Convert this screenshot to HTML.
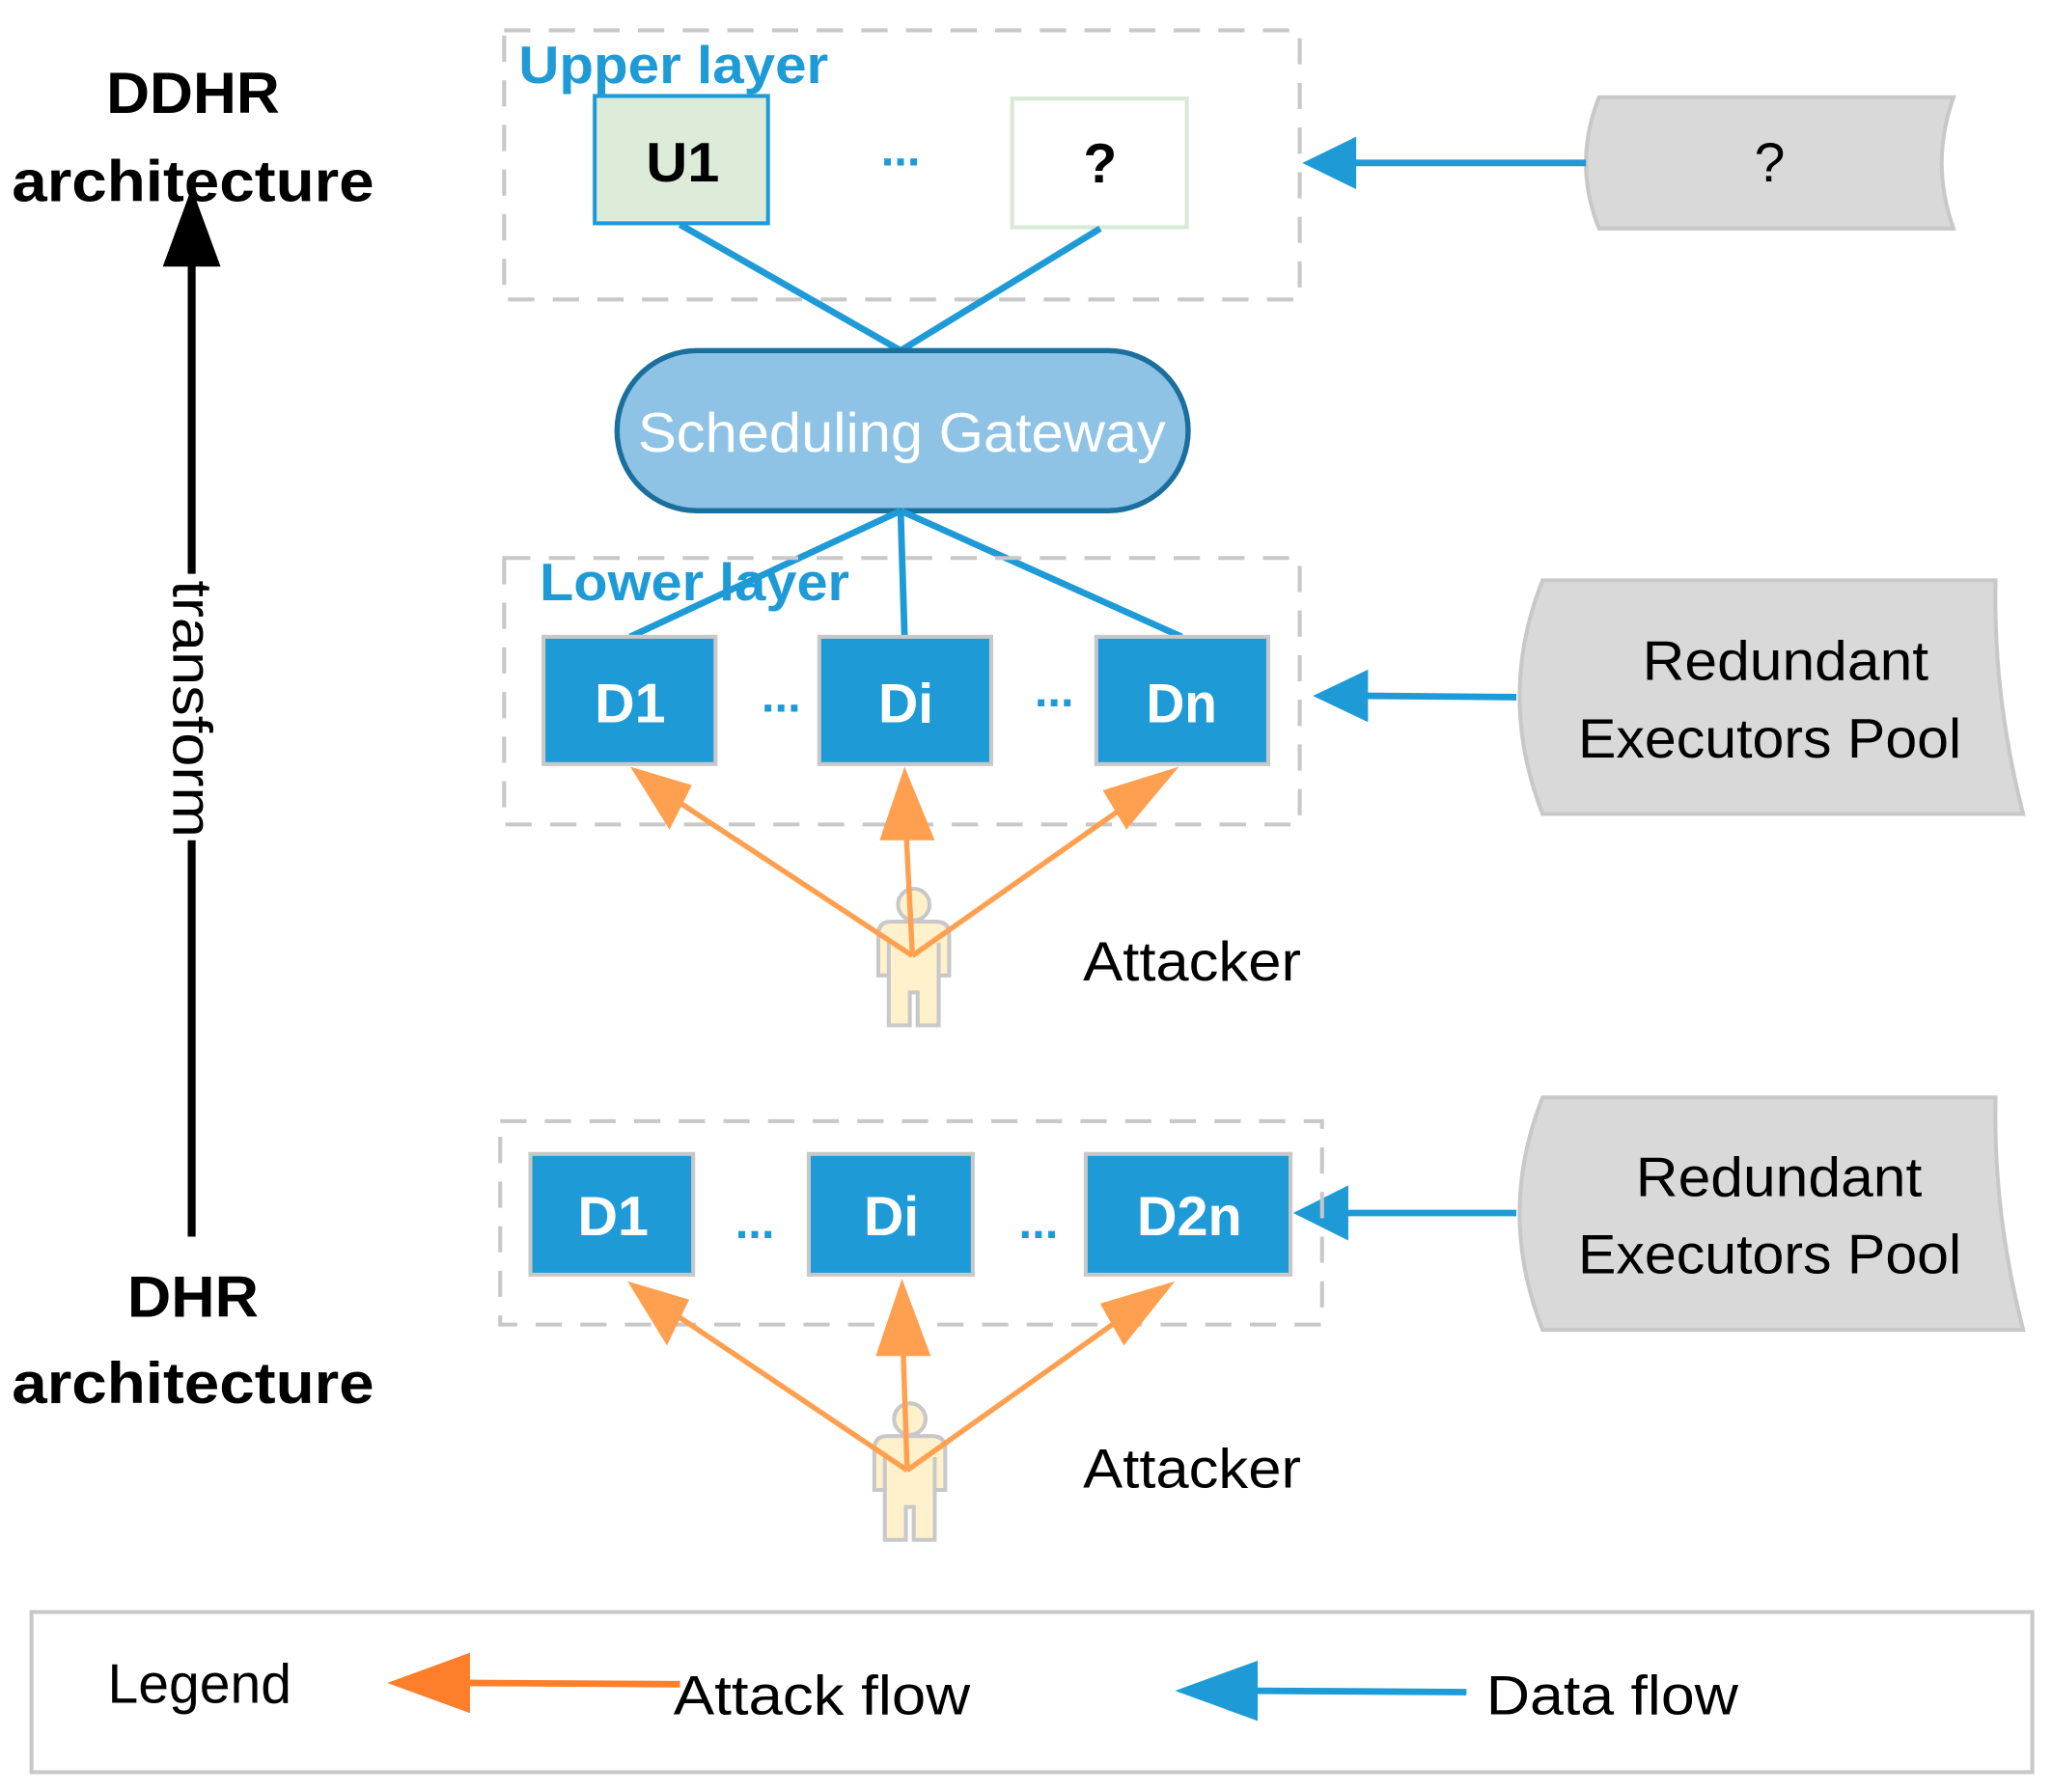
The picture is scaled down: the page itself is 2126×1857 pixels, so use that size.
<!DOCTYPE html>
<html><head><meta charset="utf-8"><style>
html,body{margin:0;padding:0;background:#fff}
svg{display:block}
text{font-family:"Liberation Sans",sans-serif}
</style></head><body>
<svg width="2126" height="1857" viewBox="0 0 1563 1365" xmlns="http://www.w3.org/2000/svg">
<!-- left labels -->
<g font-weight="bold" font-size="44" text-anchor="middle" fill="#000">
<text x="147" y="86" textLength="132" lengthAdjust="spacingAndGlyphs">DDHR</text>
<text x="147" y="153" textLength="276" lengthAdjust="spacingAndGlyphs">architecture</text>
<text x="147" y="1003" textLength="100" lengthAdjust="spacingAndGlyphs">DHR</text>
<text x="147" y="1069" textLength="276" lengthAdjust="spacingAndGlyphs">architecture</text>
</g>
<line x1="146" y1="942" x2="146" y2="640" stroke="#000" stroke-width="6"/>
<line x1="146" y1="437" x2="146" y2="195" stroke="#000" stroke-width="6"/>
<polygon points="146,143 124,203 168,203" fill="#000"/>
<text x="0" y="0" font-size="42" text-anchor="middle" transform="translate(132,540) rotate(90)" textLength="196" lengthAdjust="spacingAndGlyphs">transform</text>

<!-- upper layer -->
<rect x="384" y="23" width="606" height="205" fill="none" stroke="#c8c8c8" stroke-width="3" stroke-dasharray="20,14"/>
<text x="395" y="63" font-size="40" font-weight="bold" fill="#1e9bd7" textLength="236" lengthAdjust="spacingAndGlyphs">Upper layer</text>
<rect x="453" y="73" width="132" height="97" fill="#dcecd9" stroke="#1e9bd7" stroke-width="3"/>
<text x="520" y="138" font-size="42" font-weight="bold" text-anchor="middle" textLength="56" lengthAdjust="spacingAndGlyphs">U1</text>
<text x="686" y="126" font-size="36" font-weight="bold" fill="#1e9bd7" text-anchor="middle">...</text>
<rect x="771" y="75" width="133" height="98" fill="#fff" stroke="#d8ead4" stroke-width="3"/>
<text x="838" y="139" font-size="42" font-weight="bold" text-anchor="middle">?</text>
<line x1="518" y1="171" x2="686" y2="267" stroke="#1e9bd7" stroke-width="5"/>
<line x1="838" y1="174" x2="686" y2="267" stroke="#1e9bd7" stroke-width="5"/>

<!-- gateway -->
<rect x="470" y="267" width="435" height="122" rx="61" fill="#8ec3e6" stroke="#1a6f9c" stroke-width="4"/>
<text x="687" y="344" font-size="42" fill="#fff" text-anchor="middle" textLength="402" lengthAdjust="spacingAndGlyphs">Scheduling Gateway</text>
<line x1="686" y1="389" x2="480" y2="485" stroke="#1e9bd7" stroke-width="5"/>
<line x1="686" y1="389" x2="689" y2="485" stroke="#1e9bd7" stroke-width="5"/>
<line x1="686" y1="389" x2="900" y2="485" stroke="#1e9bd7" stroke-width="5"/>

<!-- lower layer -->
<rect x="384" y="425" width="606" height="203" fill="none" stroke="#c8c8c8" stroke-width="3" stroke-dasharray="20,14"/>
<text x="411" y="457" font-size="40" font-weight="bold" fill="#1e9bd7" textLength="236" lengthAdjust="spacingAndGlyphs">Lower layer</text>
<g stroke="#c8c8c8" stroke-width="3" fill="#1e9bd7">
<rect x="414" y="485" width="131" height="97"/>
<rect x="624" y="485" width="131" height="97"/>
<rect x="835" y="485" width="131" height="97"/>
</g>
<g font-size="42" font-weight="bold" fill="#fff" text-anchor="middle">
<text x="480" y="550" textLength="54" lengthAdjust="spacingAndGlyphs">D1</text><text x="690" y="550">Di</text><text x="900" y="550" textLength="54" lengthAdjust="spacingAndGlyphs">Dn</text>
</g>
<g font-size="36" font-weight="bold" fill="#1e9bd7" text-anchor="middle">
<text x="595" y="542">...</text><text x="803" y="538">...</text>
</g>

<!-- attacker 1 -->
<g stroke="#c8c8c8" stroke-width="3" fill="#fff1cb">
<circle cx="696" cy="689" r="12"/>
<path d="M669,712 Q669,702 679,702 H713 Q723,702 723,712 V743 H715 V781 H699 V756 H693 V781 H677 V743 H669 Z"/>
<line x1="677" y1="718" x2="677" y2="743"/><line x1="715" y1="718" x2="715" y2="743"/>
</g>
<g stroke="#ffa050" stroke-width="4" fill="none">
<line x1="695" y1="728" x2="508" y2="605"/>
<line x1="695" y1="728" x2="689" y2="610"/>
<line x1="695" y1="728" x2="870" y2="605"/>
</g>
<g fill="#ffa050">
<polygon points="480,584 527,598 510,632"/>
<polygon points="689,584 670,640 712,640"/>
<polygon points="898,584 858,632 840,602"/>
</g>
<text x="825" y="747" font-size="42" textLength="166" lengthAdjust="spacingAndGlyphs">Attacker</text>

<!-- right shapes -->
<g fill="#d9d9d9" stroke="#c8c8c8" stroke-width="3">
<path d="M1218,74 L1488,74 Q1470,124 1488,174 L1218,174 Q1198,124 1218,74 Z"/>
<path d="M1175,442 L1520,442 Q1518,530 1541,620 L1175,620 Q1140,530 1175,442 Z"/>
<path d="M1175,836 L1520,836 Q1518,924 1541,1013 L1175,1013 Q1140,924 1175,836 Z"/>
</g>
<text x="1348" y="138" font-size="42" text-anchor="middle">?</text>
<g font-size="42" text-anchor="middle">
<text x="1360" y="518" textLength="218" lengthAdjust="spacingAndGlyphs">Redundant</text>
<text x="1348" y="577" textLength="292" lengthAdjust="spacingAndGlyphs">Executors Pool</text>
<text x="1355" y="911" textLength="218" lengthAdjust="spacingAndGlyphs">Redundant</text>
<text x="1348" y="970" textLength="292" lengthAdjust="spacingAndGlyphs">Executors Pool</text>
</g>
<g stroke="#1e9bd7" stroke-width="5">
<line x1="1208" y1="124" x2="1030" y2="124"/>
<line x1="1155" y1="531" x2="1040" y2="530"/>
<line x1="1155" y1="924" x2="1025" y2="924"/>
</g>
<g fill="#1e9bd7">
<polygon points="992,124 1033,104 1033,144"/>
<polygon points="1000,530 1042,510 1042,550"/>
<polygon points="985,924 1027,903 1027,945"/>
</g>

<!-- DHR lower box -->
<rect x="381" y="854" width="626" height="155" fill="none" stroke="#c8c8c8" stroke-width="3" stroke-dasharray="20,14"/>
<g stroke="#c8c8c8" stroke-width="3" fill="#1e9bd7">
<rect x="404" y="879" width="124" height="92"/>
<rect x="616" y="879" width="125" height="92"/>
<rect x="827" y="879" width="156" height="92"/>
</g>
<g font-size="42" font-weight="bold" fill="#fff" text-anchor="middle">
<text x="467" y="941" textLength="54" lengthAdjust="spacingAndGlyphs">D1</text><text x="679" y="941">Di</text><text x="906" y="941" textLength="80" lengthAdjust="spacingAndGlyphs">D2n</text>
</g>
<g font-size="36" font-weight="bold" fill="#1e9bd7" text-anchor="middle">
<text x="575" y="943">...</text><text x="791" y="943">...</text>
</g>

<!-- attacker 2 -->
<g stroke="#c8c8c8" stroke-width="3" fill="#fff1cb">
<circle cx="693" cy="1081" r="12"/>
<path d="M666,1104 Q666,1094 676,1094 H710 Q720,1094 720,1104 V1135 H712 V1173 H696 V1148 H690 V1173 H674 V1135 H666 Z"/>
<line x1="674" y1="1110" x2="674" y2="1135"/><line x1="712" y1="1110" x2="712" y2="1135"/>
</g>
<g stroke="#ffa050" stroke-width="4" fill="none">
<line x1="691" y1="1120" x2="505" y2="995"/>
<line x1="691" y1="1120" x2="687" y2="1000"/>
<line x1="691" y1="1120" x2="867" y2="995"/>
</g>
<g fill="#ffa050">
<polygon points="478,976 525,990 508,1025"/>
<polygon points="687,974 667,1033 709,1033"/>
<polygon points="895,976 856,1025 838,993"/>
</g>
<text x="825" y="1133" font-size="42" textLength="166" lengthAdjust="spacingAndGlyphs">Attacker</text>

<!-- legend -->
<rect x="24" y="1228" width="1524" height="122" fill="none" stroke="#c8c8c8" stroke-width="3"/>
<text x="82" y="1297" font-size="42" textLength="140" lengthAdjust="spacingAndGlyphs">Legend</text>
<line x1="355" y1="1282" x2="518" y2="1283" stroke="#fd7f2c" stroke-width="5"/>
<polygon points="295,1282 358,1259 358,1305" fill="#fd7f2c"/>
<text x="513" y="1306" font-size="42" textLength="226" lengthAdjust="spacingAndGlyphs">Attack flow</text>
<line x1="957" y1="1288" x2="1117" y2="1289" stroke="#1e9bd7" stroke-width="5"/>
<polygon points="895,1288 958,1265 958,1311" fill="#1e9bd7"/>
<text x="1132" y="1306" font-size="42" textLength="192" lengthAdjust="spacingAndGlyphs">Data flow</text>
</svg>
</body></html>
